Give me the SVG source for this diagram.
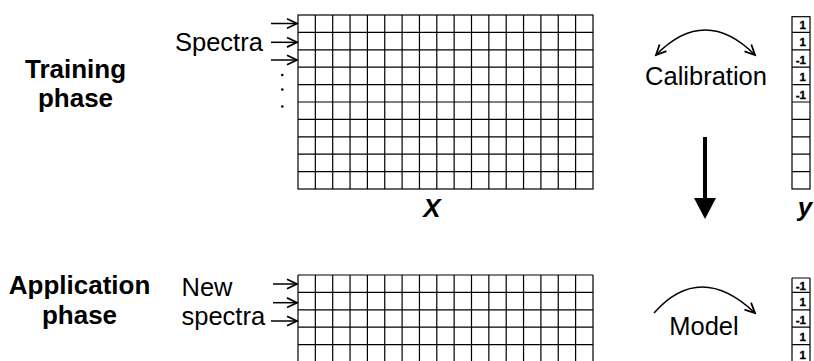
<svg xmlns="http://www.w3.org/2000/svg" width="814" height="361" viewBox="0 0 814 361">
<style>
.bold{font-family:"Liberation Sans",Arial,sans-serif;font-weight:bold;font-size:26px;fill:#000}
.reg{font-family:"Liberation Sans",Arial,sans-serif;font-size:25.5px;fill:#000}
.val{font-family:"Liberation Sans",Arial,sans-serif;font-weight:bold;font-size:11.5px;fill:#000;stroke:#000;stroke-width:0.35;text-anchor:end}
.grid{fill:none;stroke:#000;stroke-width:1.2}
.conn{fill:none;stroke:#000;stroke-width:1.5}
</style>
<defs>
<marker id="ah" markerUnits="userSpaceOnUse" markerWidth="14" markerHeight="14" viewBox="0 0 14 14" refX="12" refY="7" orient="auto-start-reverse">
<path d="M2,2.2 L12,7 L2,11.8" fill="none" stroke="#000" stroke-width="1.8"/>
</marker>
</defs>
<rect width="814" height="361" fill="#fff"/>

<g id="training-label">
<text class="bold" x="75.5" y="77.5" text-anchor="middle">Training</text>
<text class="bold" x="75.5" y="106.5" text-anchor="middle">phase</text>
</g>
<g id="application-label">
<text class="bold" x="79.5" y="293.5" text-anchor="middle">Application</text>
<text class="bold" x="79.5" y="323.5" text-anchor="middle">phase</text>
</g>

<g id="spectra-label">
<text class="reg" x="175" y="50.5">Spectra</text>
<circle cx="282.3" cy="75" r="1.3"/>
<circle cx="282.3" cy="89.5" r="1.3"/>
<circle cx="282.3" cy="106.5" r="1.3"/>
</g>
<g id="new-spectra-label">
<text class="reg" x="181.5" y="296">New</text>
<text class="reg" x="181.5" y="325">spectra</text>
</g>

<g id="matrix-X">
<rect class="grid" x="298" y="15" width="295" height="174"/>
<path class="grid" d="M315.35,15V189M332.7,15V189M350.05,15V189M367.4,15V189M384.75,15V189M402.1,15V189M419.45,15V189M436.8,15V189M454.15,15V189M471.5,15V189M488.85,15V189M506.2,15V189M523.55,15V189M540.9,15V189M558.25,15V189M575.6,15V189
M298,32.4H593M298,49.8H593M298,67.2H593M298,84.6H593M298,102H593M298,119.4H593M298,136.8H593M298,154.2H593M298,171.6H593"/>
<text x="432" y="217" text-anchor="middle" style="font-family:'Liberation Sans',Arial,sans-serif;font-weight:bold;font-style:italic;font-size:26px">X</text>
</g>

<g id="vector-y">
<rect class="grid" x="792" y="16.7" width="18" height="172.3"/>
<path class="grid" d="M792,32.4H810M792,49.8H810M792,67.2H810M792,84.6H810M792,102H810M792,119.4H810M792,136.8H810M792,154.2H810M792,171.6H810"/>
<text class="val" x="806" y="29">1</text>
<text class="val" x="806" y="46.4">1</text>
<text class="val" x="806" y="63.8">-1</text>
<text class="val" x="806" y="81.2">1</text>
<text class="val" x="806" y="98.6">-1</text>
<text x="805" y="216" text-anchor="middle" style="font-family:'Liberation Sans',Arial,sans-serif;font-weight:bold;font-style:italic;font-size:26px">y</text>
</g>

<g id="calibration-label">
<text class="reg" x="706" y="85" text-anchor="middle">Calibration</text>
</g>

<g id="matrix-new">
<path class="grid" d="M298,275H593M298,275V365M593,275V365M315.35,275V365M332.7,275V365M350.05,275V365M367.4,275V365M384.75,275V365M402.1,275V365M419.45,275V365M436.8,275V365M454.15,275V365M471.5,275V365M488.85,275V365M506.2,275V365M523.55,275V365M540.9,275V365M558.25,275V365M575.6,275V365
M298,292.4H593M298,309.8H593M298,327.2H593M298,344.6H593"/>
</g>

<g id="vector-new">
<path class="grid" d="M792,278H810M792,278V365M810,278V365M792,292.4H810M792,309.8H810M792,327.2H810M792,344.6H810"/>
<text class="val" x="806" y="289.5">-1</text>
<text class="val" x="806" y="306.4">1</text>
<text class="val" x="806" y="323.8">-1</text>
<text class="val" x="806" y="341.2">1</text>
<text class="val" x="806" y="358.6">1</text>
</g>

<g id="model-label">
<text class="reg" x="704" y="335" text-anchor="middle">Model</text>
</g>

<g id="connectors">
<path class="conn" d="M271,23.5H297" marker-end="url(#ah)"/>
<path class="conn" d="M271,42.3H297" marker-end="url(#ah)"/>
<path class="conn" d="M271,60H297" marker-end="url(#ah)"/>
<path class="conn" d="M273,284H297" marker-end="url(#ah)"/>
<path class="conn" d="M273,302.7H297" marker-end="url(#ah)"/>
<path class="conn" d="M271,321H297" marker-end="url(#ah)"/>
<path class="conn" d="M656,55 Q705,5 755,55" marker-start="url(#ah)" marker-end="url(#ah)"/>
<path class="conn" d="M654,313 Q700,261 755,313" marker-end="url(#ah)"/>
<line x1="705" y1="137" x2="705" y2="200" stroke="#000" stroke-width="4"/>
<polygon points="694,198 716,198 705,219" fill="#000"/>
</g>
</svg>
